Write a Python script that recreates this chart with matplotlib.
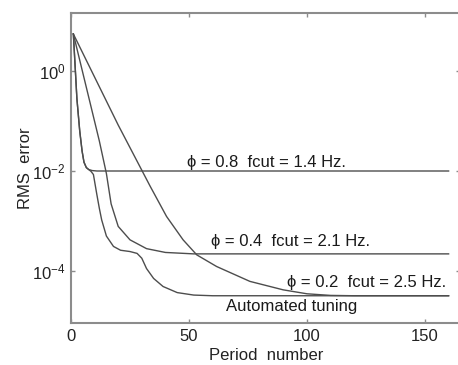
import matplotlib
matplotlib.use("Agg")
import matplotlib.pyplot as plt
import numpy as np

plt.rcParams['font.family'] = ['Liberation Sans', 'DejaVu Sans']
plt.rcParams['mathtext.fontset'] = 'custom'
plt.rcParams['mathtext.rm'] = 'Liberation Sans'
plt.rcParams['mathtext.it'] = 'Liberation Sans'

# --- data (y values are RMS error) ---
x_phi08 = [1, 2.5, 3.7, 4.7, 5.5, 6.5, 7.5, 9, 11, 160]
y_phi08 = [5.5, 2.8e-1, 6.3e-2, 2.5e-2, 1.5e-2, 1.17e-2, 1.07e-2, 1.02e-2, 1.0e-2, 1.0e-2]

x_auto = [1, 2.5, 3.7, 4.7, 5.5, 6.5, 7.5, 8.5, 9.5, 10.9, 12, 13, 15, 18, 21, 25, 28, 30, 32, 35, 39, 45, 52, 60, 160]
y_auto = [5.5, 2.8e-1, 6.3e-2, 2.5e-2, 1.5e-2, 1.17e-2, 1.07e-2, 9.8e-3, 8.5e-3, 3.5e-3,
          1.8e-3, 1.05e-3, 5.0e-4, 3.1e-4, 2.6e-4, 2.45e-4, 2.25e-4, 1.8e-4, 1.12e-4, 7.1e-5,
          4.9e-5, 3.7e-5, 3.3e-5, 3.2e-5, 3.2e-5]

x_phi04 = [1, 8, 12, 15, 17, 20, 25, 32, 40, 52, 60, 160]
y_phi04 = [5.5, 2.4e-1, 4.0e-2, 8.9e-3, 2.2e-3, 7.8e-4, 4.2e-4, 2.8e-4, 2.35e-4, 2.2e-4, 2.2e-4, 2.2e-4]

x_phi02 = [1, 20, 33.5, 40.5, 47.5, 53.3, 61.7, 75.8, 89.9, 100, 110, 120, 160]
y_phi02 = [5.5, 8.3e-2, 5.0e-3, 1.23e-3, 4.2e-4, 2.1e-4, 1.23e-4, 6.2e-5, 4.2e-5, 3.5e-5, 3.25e-5, 3.2e-5, 3.2e-5]

labels = ["\u03d5 = 0.8  fcut = 1.4 Hz.",
          "\u03d5 = 0.4  fcut = 2.1 Hz.",
          "\u03d5 = 0.2  fcut = 2.5 Hz.",
          "Automated tuning"]

xticks = [0, 50, 100, 150]
yticks = [1e0, 1e-2, 1e-4]
ytick_labels = [r'$10^{0}$', r'$10^{-2}$', r'$10^{-4}$']

# --- figure ---
W, H = 458, 365
fig = plt.figure(figsize=(W / 100, H / 100), dpi=100)
left_px, top_px, bottom_px = 71, 13, 323
xmax = 165
px_per_unit = 118 / 50
width_px = xmax * px_per_unit
ax = fig.add_axes([left_px / W, (H - bottom_px) / H, width_px / W, (bottom_px - top_px) / H])

line_color = '#4d4d4d'
for xs, ys in [(x_phi08, y_phi08), (x_auto, y_auto), (x_phi04, y_phi04), (x_phi02, y_phi02)]:
    ax.plot(xs, ys, color=line_color, lw=1.0)

ax.set_yscale('log')
ax.set_xlim(0, xmax)
ax.set_ylim(10 ** -5.04, 10 ** 1.16)
ax.set_xticks(xticks)
ax.set_yticks(yticks)
ax.set_yticklabels(ytick_labels)
ax.yaxis.set_minor_locator(matplotlib.ticker.NullLocator())

for s in ax.spines.values():
    s.set_color('#8c8c8c')
    s.set_linewidth(1.5)
ax.tick_params(direction='in', length=3, width=1, color='#8c8c8c', top=True, right=True,
               labelsize=12, labelcolor='#222222', pad=4)

ax.set_xlabel("Period  number", fontsize=12, color='#222222', labelpad=3)
ax.set_ylabel("RMS  error", fontsize=12, color='#222222', labelpad=-1)

tc = '#1a1a1a'
ax.text(49, 10 ** -1.92, labels[0], fontsize=12, color=tc, va='baseline', ha='left')
ax.text(59.5, 10 ** -3.5, labels[1], fontsize=12, color=tc, va='baseline', ha='left')
ax.text(91.4, 10 ** -4.31, labels[2], fontsize=12, color=tc, va='baseline', ha='left')
ax.text(65.5, 10 ** -4.81, labels[3], fontsize=12, color=tc, va='baseline', ha='left')

fig.savefig("out.png", dpi=100)
